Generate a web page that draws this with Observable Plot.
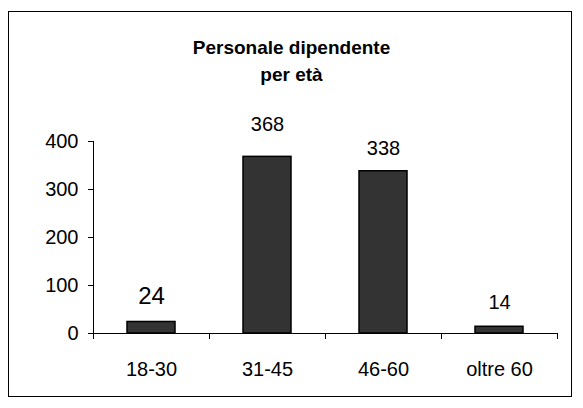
<!DOCTYPE html>
<html>
<head>
<meta charset="utf-8">
<script src="https://cdn.jsdelivr.net/npm/d3@7"></script>
<script src="https://cdn.jsdelivr.net/npm/@observablehq/plot@0.6"></script>
<style>
  html, body { margin: 0; padding: 0; background: #fff; }
  body { width: 583px; height: 408px; position: relative; overflow: hidden; font-family: "Liberation Sans", Arial, sans-serif; }
  #frame { position: absolute; left: 8px; top: 11px; width: 562px; height: 384px; border: 1px solid #000; box-sizing: content-box; }
  #title { position: absolute; left: 0; width: 583px; top: 34px; text-align: center; font-weight: bold; font-size: 19px; line-height: 27px; color: #000; }
  #chart { position: absolute; left: 0; top: 0; }
</style>
</head>
<body>
<div id="frame"></div>
<div id="title">Personale dipendente<br>per età</div>
<div id="chart"></div>
<script>
const categories = ["18-30", "31-45", "46-60", "oltre 60"];
const values = [24, 368, 338, 14];
const yTicks = [0, 100, 200, 300, 400];

const data = categories.map((c, i) => ({cat: c, value: values[i], label: String(values[i])}));

const W = 583, H = 408;
const mL = 93, mR = 26, mT = 141, mB = 75;
const bw = (W - mL - mR) / categories.length;

const plot = Plot.plot({
  width: W,
  height: H,
  marginLeft: mL,
  marginRight: mR,
  marginTop: mT,
  marginBottom: mB,
  style: {fontFamily: "'Liberation Sans', Arial, sans-serif", fontSize: "20px", color: "#000", background: "transparent", overflow: "visible"},
  x: {type: "band", domain: categories, padding: 0, label: null},
  y: {domain: [0, 400], label: null},
  marks: [
    Plot.axisY({ticks: yTicks, tickSize: 5, tickPadding: 10, fontSize: 20, label: null, stroke: "#000"}),
    Plot.frame({anchor: "left", stroke: "#000"}),
    Plot.axisX({tickSize: 0, tickPadding: 28, fontSize: 20, label: null}),
    Plot.axisX({tickSize: 6, tickFormat: () => "", dx: -bw / 2, stroke: "#000", label: null}),
    Plot.axisX({ticks: [categories[categories.length - 1]], tickSize: 6, tickFormat: () => "", dx: bw / 2, stroke: "#000", label: null}),
    Plot.barY(data, {x: "cat", y: "value", fill: "#333333", stroke: "#000", strokeWidth: 1.5, insetLeft: 34, insetRight: 34}),
    Plot.ruleY([0], {stroke: "#000"}),
    Plot.text(data.filter(d => d.value < 30 && d.value > 20), {x: "cat", y: "value", text: "label", fontSize: 24, dy: -26, fill: "#000"}),
    Plot.text(data.filter(d => d.value < 20), {x: "cat", y: "value", text: "label", fontSize: 20, dy: -24, fill: "#000"}),
    Plot.text(data.filter(d => d.value > 350), {x: "cat", y: "value", text: "label", fontSize: 20, dy: -32, fill: "#000"}),
    Plot.text(data.filter(d => d.value > 30 && d.value <= 350), {x: "cat", y: "value", text: "label", fontSize: 20, dy: -23, fill: "#000"})
  ]
});
document.getElementById("chart").appendChild(plot);
</script>
</body>
</html>
